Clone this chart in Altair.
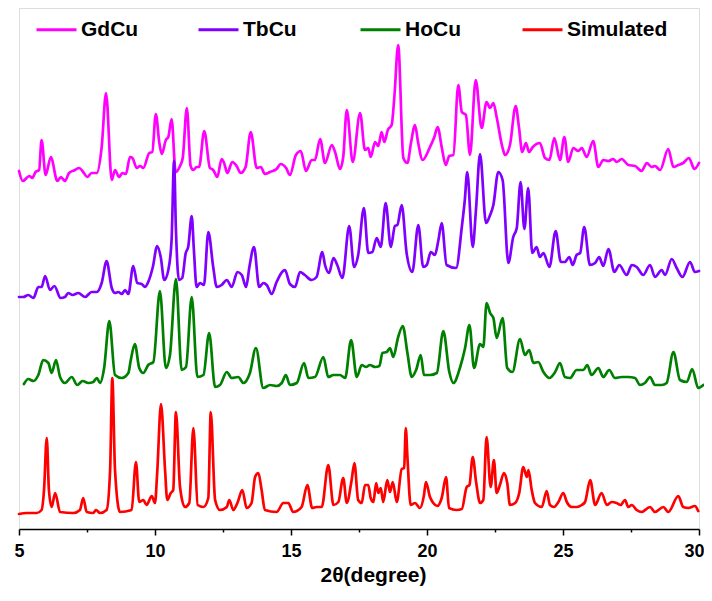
import altair as alt
import pandas as pd

# ---- data (2θ in degrees, intensity in arbitrary units, offset per pattern) ----
gd_x = [5.00, 5.14, 5.38, 5.49, 5.61, 5.74, 5.83, 5.98, 6.17, 6.41, 6.54, 6.69, 6.84, 7.06, 7.21, 7.36,
        7.51, 7.67, 7.86, 8.04, 8.20, 8.41, 8.53, 8.68, 8.80, 8.93, 9.08, 9.17, 9.33, 9.45, 9.57, 9.79,
        9.90, 10.03, 10.16, 10.25, 10.40, 10.49, 10.61, 10.76, 10.92, 11.02, 11.17, 11.31, 11.41, 11.53,
        11.62, 11.81, 12.02, 12.14, 12.29, 12.45, 12.54, 12.66, 12.84, 13.00, 13.15, 13.33, 13.52, 13.74,
        13.89, 14.04, 14.23, 14.47, 14.62, 14.82, 14.96, 15.18, 15.36, 15.55, 15.76, 15.88, 16.07, 16.25,
        16.50, 16.62, 16.80, 16.92, 17.05, 17.27, 17.54, 17.72, 17.84, 17.93, 18.09, 18.21, 18.33, 18.43,
        18.56, 18.70, 18.80, 18.94, 19.13, 19.28, 19.41, 19.56, 19.67, 19.84, 20.11, 20.27, 20.39, 20.54,
        20.69, 20.82, 20.97, 21.15, 21.28, 21.43, 21.58, 21.79, 22.01, 22.19, 22.32, 22.44, 22.56, 22.77,
        22.87, 23.05, 23.26, 23.38, 23.50, 23.64, 23.75, 23.89, 24.15, 24.34, 24.50, 24.68, 24.89, 25.05,
        25.19, 25.38, 25.56, 25.69, 25.87, 26.11, 26.30, 26.48, 26.67, 26.85, 26.97, 27.16, 27.40, 27.65,
        27.89, 28.08, 28.26, 28.38, 28.57, 28.87, 29.06, 29.24, 29.42, 29.63, 29.83, 30.00]
gd_y = [358, 348, 353, 351, 357, 359, 389, 354, 372, 348, 352, 348, 356, 359, 361, 357,
        352, 356, 356, 382, 436, 349, 359, 352, 356, 355, 372, 371, 361, 363, 361, 376,
        377, 415, 386, 375, 389, 392, 410, 357, 363, 371, 421, 363, 359, 362,
        362, 398, 361, 359, 352, 370, 366, 356, 367, 363, 356, 362, 397, 361,
        362, 355, 357, 360, 365, 361, 354, 374, 378, 358, 369, 369, 390, 366,
        384, 377, 360, 372, 419, 367, 416, 379, 381, 372, 387, 383, 397, 387,
        399, 404, 432, 484, 371, 366, 386, 404, 387, 369, 382, 392, 402, 382,
        364, 373, 374, 444, 417, 414, 374, 449, 401, 427, 421, 426, 412, 382,
        374, 384, 423, 402, 377, 386, 377, 382, 386, 371, 369, 391, 369, 392,
        367, 381, 378, 381, 372, 388, 362, 369, 368, 370, 367, 370, 364, 363,
        358, 366, 362, 363, 359, 380, 362, 364, 366, 371, 360, 366]

tb_x = [5.00, 5.16, 5.34, 5.53, 5.71, 5.83, 5.96, 6.14, 6.30, 6.53, 6.69, 6.81, 6.97, 7.18, 7.43, 7.67,
        7.86, 8.04, 8.22, 8.41, 8.53, 8.65, 8.78, 8.90, 9.02, 9.20, 9.35, 9.51, 9.63, 9.75, 9.92, 10.08,
        10.21, 10.34, 10.49, 10.61, 10.70, 10.77, 10.88, 11.00, 11.13, 11.22, 11.35, 11.43, 11.53, 11.65,
        11.80, 11.96, 12.14, 12.27, 12.45, 12.64, 12.82, 13.03, 13.19, 13.35, 13.47, 13.64, 13.83, 13.98,
        14.11, 14.29, 14.47, 14.78, 14.96, 15.15, 15.33, 15.51, 15.76, 15.94, 16.15, 16.25, 16.40, 16.56,
        16.70, 16.89, 17.14, 17.32, 17.47, 17.68, 17.84, 17.99, 18.15, 18.30, 18.48, 18.67, 18.82, 18.91,
        19.07, 19.25, 19.46, 19.68, 19.86, 19.99, 20.14, 20.29, 20.42, 20.54, 20.72, 21.07, 21.28, 21.39,
        21.48, 21.68, 21.80, 21.95, 22.17, 22.32, 22.44, 22.62, 22.78, 22.99, 23.17, 23.30, 23.44, 23.58,
        23.72, 23.87, 24.03, 24.15, 24.28, 24.50, 24.73, 24.92, 25.07, 25.23, 25.36, 25.50, 25.63, 25.78,
        25.99, 26.18, 26.33, 26.48, 26.67, 26.89, 27.07, 27.34, 27.53, 27.71, 27.95, 28.20, 28.38, 28.63,
        28.75, 29.00, 29.18, 29.39, 29.67, 29.85, 30.00]
tb_y = [232, 232, 234, 231, 242, 242, 253, 239, 243, 231, 232, 236, 234, 236, 232, 237,
        237, 246, 268, 241, 236, 237, 235, 239, 235, 263, 246, 245, 242, 247, 262, 283,
        272, 249, 259, 289, 368, 299, 249, 251, 276, 282, 313, 279, 242, 246,
        244, 297, 262, 242, 244, 249, 242, 257, 254, 242, 262, 282, 242, 246,
        244, 235, 247, 259, 245, 242, 257, 254, 249, 252, 277, 264, 256, 271,
        264, 251, 303, 262, 274, 321, 276, 277, 291, 282, 326, 282, 303, 304,
        324, 276, 257, 304, 262, 264, 277, 274, 289, 306, 264, 261, 302, 329,
        357, 282, 319, 375, 306, 314, 324, 357, 349, 266, 292, 301, 347, 300,
        341, 276, 282, 272, 276, 262, 298, 267, 267, 272, 264, 274, 276, 302,
        264, 266, 272, 263, 280, 257, 264, 254, 264, 262, 254, 264, 252, 259,
        254, 270, 261, 252, 267, 257, 258]

ho_x = [5.18, 5.34, 5.53, 5.71, 5.89, 6.08, 6.20, 6.36, 6.51, 6.69, 6.94, 7.14, 7.34, 7.55, 7.73, 7.86,
        7.98, 8.13, 8.32, 8.53, 8.78, 9.02, 9.11, 9.26, 9.42, 9.57, 9.75, 9.94, 10.18, 10.40, 10.55, 10.77,
        10.98, 11.14, 11.35, 11.56, 11.78, 11.99, 12.21, 12.39, 12.64, 12.82, 13.06, 13.25, 13.49, 13.71,
        13.98, 14.23, 14.47, 14.66, 14.81, 14.96, 15.21, 15.48, 15.64, 15.88, 16.19, 16.37, 16.56, 16.80,
        16.99, 17.21, 17.42, 17.60, 17.76, 17.90, 18.09, 18.25, 18.36, 18.52, 18.64, 18.76, 18.94, 19.11,
        19.28, 19.44, 19.60, 19.77, 19.89, 20.11, 20.36, 20.60, 20.82, 20.97, 21.21, 21.40, 21.56, 21.73,
        21.95, 22.07, 22.19, 22.32, 22.44, 22.56, 22.78, 22.95, 23.14, 23.42, 23.60, 23.76, 23.91, 24.09,
        24.28, 24.50, 24.71, 24.89, 25.07, 25.26, 25.50, 25.75, 25.89, 26.05, 26.30, 26.48, 26.70, 26.91,
        27.16, 27.40, 27.65, 27.83, 28.01, 28.20, 28.38, 28.63, 28.81, 29.06, 29.30, 29.55, 29.75, 29.97,
        30.16]
ho_y = [145, 150, 148, 154, 169, 166, 156, 169, 152, 146, 152, 144, 148, 146, 147, 151,
        146, 161, 208, 154, 151, 156, 169, 185, 161, 156, 164, 167, 238, 161, 174, 250,
        159, 162, 232, 152, 154, 196, 142, 144, 157, 151, 152, 146, 156, 181,
        141, 144, 143, 146, 154, 144, 146, 166, 151, 152, 172, 152, 154, 154,
        151, 189, 152, 164, 162, 164, 162, 163, 176, 177, 181, 172, 192, 203,
        176, 152, 159, 174, 154, 154, 156, 198, 157, 146, 161, 181, 204, 161,
        185, 182, 226, 216, 211, 191, 211, 161, 157, 190, 174, 179, 166, 167,
        157, 151, 157, 166, 152, 151, 159, 159, 164, 154, 161, 152, 159, 151,
        152, 152, 151, 144, 146, 152, 144, 144, 146, 177, 149, 147, 160, 141,
        144]

sim_x = [5.00, 5.28, 5.65, 5.83, 5.92, 6.02, 6.10, 6.20, 6.33, 6.51, 7.00, 7.24, 7.36, 7.49, 7.73, 7.83,
         7.98, 8.22, 8.35, 8.43, 8.53, 8.71, 9.14, 9.30, 9.42, 9.57, 9.69, 9.88, 10.00, 10.08, 10.22, 10.37,
         10.45, 10.58, 10.67, 10.77, 10.92, 11.10, 11.26, 11.41, 11.57, 11.78, 11.96, 12.05, 12.21, 12.39,
         12.64, 12.73, 12.88, 13.03, 13.21, 13.37, 13.55, 13.68, 13.80, 13.92, 14.04, 14.47, 14.72, 14.90,
         15.08, 15.39, 15.60, 15.78, 15.94, 16.13, 16.37, 16.56, 16.74, 16.92, 17.05, 17.23, 17.33, 17.47,
         17.60, 17.72, 17.84, 17.93, 18.03, 18.13, 18.21, 18.30, 18.39, 18.54, 18.64, 18.74, 18.89, 19.07,
         19.16, 19.22, 19.28, 19.40, 19.56, 19.74, 19.89, 19.96, 20.11, 20.23, 20.38, 20.54, 20.70, 20.81,
         21.09, 21.28, 21.46, 21.56, 21.68, 21.81, 21.95, 22.07, 22.19, 22.34, 22.46, 22.56, 22.68, 22.83,
         22.95, 23.05, 23.24, 23.39, 23.54, 23.67, 23.73, 23.85, 23.97, 24.22, 24.40, 24.52, 24.67, 24.83,
         25.01, 25.14, 25.32, 25.50, 25.69, 25.81, 26.00, 26.18, 26.42, 26.61, 26.79, 26.97, 27.12, 27.28,
         27.40, 27.53, 27.71, 27.89, 28.20, 28.38, 28.69, 28.87, 29.24, 29.42, 29.61, 29.85, 29.97]
sim_y = [15, 16, 16, 19, 39, 91, 39, 22, 36, 17, 16, 19, 31, 17, 16, 19,
         16, 19, 59, 151, 59, 17, 19, 67, 27, 29, 24, 33, 26, 56, 125, 59,
         29, 36, 39, 117, 42, 22, 26, 101, 24, 22, 31, 117, 29, 19,
         22, 29, 19, 26, 39, 21, 26, 52, 56, 39, 19, 17, 26, 26,
         17, 22, 44, 21, 22, 22, 64, 24, 27, 51, 26, 49, 66, 29,
         26, 44, 44, 31, 27, 46, 36, 41, 27, 49, 37, 47, 27, 60,
         61, 101, 72, 24, 26, 21, 34, 47, 32, 26, 23, 31, 52, 21,
         19, 20, 42, 44, 72, 46, 26, 29, 92, 42, 69, 36, 44, 56,
         46, 24, 26, 36, 62, 52, 59, 39, 26, 22, 38, 24, 22, 27,
         36, 27, 22, 22, 24, 27, 49, 24, 36, 24, 27, 26, 24, 29,
         22, 24, 19, 17, 22, 17, 22, 17, 33, 22, 21, 23, 18]

series_names = ["GdCu", "TbCu", "HoCu", "Simulated"]
series_colors = ["#ff00ff", "#8000ff", "#008000", "#ff0000"]
major_ticks = [5, 10, 15, 20, 25, 30]
minor_ticks = [7.5, 12.5, 17.5, 22.5, 27.5]

frames = []
for name, xs, ys in zip(series_names, [gd_x, tb_x, ho_x, sim_x], [gd_y, tb_y, ho_y, sim_y]):
    frames.append(pd.DataFrame({"two_theta": xs, "intensity": ys, "sample": name,
                                "idx": list(range(len(xs)))}))
df = pd.concat(frames, ignore_index=True)

FONT = "Liberation Sans"
x_scale = alt.Scale(domain=[5, 30], nice=False, zero=False)
y_scale = alt.Scale(domain=[0, 521], nice=False, zero=False)

lines = alt.Chart(df).mark_line(strokeWidth=2.7, strokeJoin="round", strokeCap="round",
                                interpolate="monotone").encode(
    x=alt.X("two_theta:Q", scale=x_scale,
            axis=alt.Axis(values=major_ticks, orient="bottom", format="d",
                          labelFlush=True, labelFlushOffset=5,
                          tickSize=6, tickColor="black", tickWidth=1.5,
                          domainColor="black", domainWidth=1.5, grid=False,
                          labelFont=FONT, labelFontSize=18, labelFontWeight="bold", labelColor="black",
                          labelPadding=7,
                          title="2θ(degree)",
                          titleFont=FONT, titleFontSize=21, titleFontWeight="bold", titleColor="black",
                          titleX=354, titleY=46, titleBaseline="middle", titleAlign="center")),
    y=alt.Y("intensity:Q", scale=y_scale, axis=None),
    color=alt.Color("sample:N",
                    scale=alt.Scale(domain=series_names, range=series_colors),
                    legend=alt.Legend(title=None, orient="none", legendX=16, legendY=0,
                                      direction="horizontal", symbolType="stroke",
                                      symbolSize=1600, symbolStrokeWidth=3,
                                      labelFont=FONT, labelFontSize=21, labelFontWeight="bold",
                                      labelColor="black", labelOffset=3, columnPadding=10,
                                      gridAlign="all", padding=0)),
    order="idx:Q",
)

minor = alt.Chart(pd.DataFrame({"t": minor_ticks})).mark_point(opacity=0).encode(
    x=alt.X("t:Q", scale=x_scale,
            axis=alt.Axis(values=minor_ticks, orient="bottom", tickSize=3, tickColor="black",
                          tickWidth=1.5, labels=False, domain=False, grid=False, title=None)),
)

chart = alt.layer(lines, minor).resolve_scale(x="independent").properties(
    width=680, height=521,
    autosize=alt.AutoSizeParams(type="none"),
    padding={"left": 11, "top": 0, "right": 5, "bottom": 60},
).configure_view(stroke=None).configure(background="white")

chart.save("out.html", embed_options={"renderer": "svg", "actions": False})
